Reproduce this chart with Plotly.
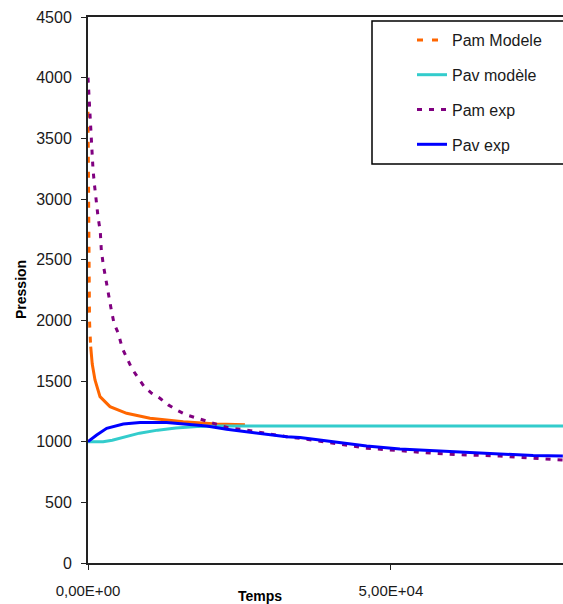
import plotly.graph_objects as go

# ---- data ----
pam_modele_t = [0, 40, 80, 120, 170, 250, 330, 445, 700, 1155, 1980, 3630, 6380,
                10230, 15730, 21230, 25900]
pam_modele_v = [3720, 3250, 2850, 2500, 2200, 2000, 1896, 1783, 1640, 1509, 1371,
                1289, 1234, 1193, 1165, 1146, 1140]

pav_modele_t = [0, 2500, 4000, 6000, 8500, 11500, 14500, 18000, 22000, 30000, 80000]
pav_modele_v = [1000, 1000, 1012, 1040, 1070, 1095, 1113, 1125, 1130, 1130, 1130]

pam_exp_t = [0, 165, 330, 495, 660, 825, 1040, 1320, 1650, 2030, 2195, 2525, 2920,
             3350, 3795, 4290, 5000, 5660, 6385, 7210, 8300, 9290, 10510, 11880,
             13250, 14635, 16285, 18200, 19850, 21500, 23150, 26185, 29485, 32785,
             34980, 40475, 45985, 51480, 56975, 62485, 67980, 73475, 78375]
pam_exp_v = [4000, 3831, 3680, 3520, 3399, 3246, 3130, 2979, 2855, 2731, 2580, 2457,
             2339, 2223, 2100, 1976, 1893, 1770, 1688, 1605, 1523, 1453, 1399, 1358,
             1303, 1261, 1220, 1193, 1165, 1138, 1115, 1095, 1065, 1041, 1028, 987,
             946, 926, 904, 890, 882, 863, 849]

pav_exp_t = [0, 1435, 3085, 5825, 8580, 12985, 16285, 19585, 22885, 26185, 29485,
             32785, 34980, 40475, 45985, 51480, 56975, 62485, 67980, 73475, 78375]
pav_exp_v = [1000, 1055, 1110, 1146, 1157, 1157, 1143, 1129, 1102, 1082, 1061,
             1041, 1035, 1000, 965, 940, 926, 918, 904, 885, 882]

y_ticks = [0, 500, 1000, 1500, 2000, 2500, 3000, 3500, 4000, 4500]
x_tick_vals = [0, 50000]
x_tick_text = ["0,00E+00", "5,00E+04"]

split = 7  # where the steep dashed part of Pam Modele ends

fig = go.Figure()
fig.add_trace(go.Scatter(x=pam_modele_t[:split + 1], y=pam_modele_v[:split + 1],
                         mode="lines", name="Pam Modele", legendgroup="a",
                         line=dict(color="#FF6600", width=3, dash="6px,9px")))
fig.add_trace(go.Scatter(x=pam_modele_t[split:], y=pam_modele_v[split:],
                         mode="lines", showlegend=False, legendgroup="a",
                         line=dict(color="#FF6600", width=3)))
fig.add_trace(go.Scatter(x=pav_modele_t, y=pav_modele_v, mode="lines",
                         name="Pav modèle", legendgroup="b",
                         line=dict(color="#33CCCC", width=3)))
fig.add_trace(go.Scatter(x=pam_exp_t, y=pam_exp_v, mode="lines",
                         name="Pam exp", legendgroup="c",
                         line=dict(color="#800080", width=3, dash="5px,7px")))
fig.add_trace(go.Scatter(x=pav_exp_t, y=pav_exp_v, mode="lines",
                         name="Pav exp", legendgroup="d",
                         line=dict(color="#0000FF", width=3)))

fig.update_layout(
    width=563, height=604,
    margin=dict(l=88, r=0, t=17, b=41),
    paper_bgcolor="white", plot_bgcolor="white",
    font=dict(family="Liberation Sans, Arial, sans-serif", color="#1a1a1a"),
    showlegend=True,
    legend=dict(x=(412 - 88) / 475, y=(563 - 23) / 546, xanchor="left", yanchor="top",
                bgcolor="rgba(0,0,0,0)", borderwidth=0,
                font=dict(size=16, color="#1a1a1a"), tracegroupgap=11),
    xaxis=dict(range=[0, 78400], tickvals=x_tick_vals, ticktext=x_tick_text,
               showgrid=False, zeroline=False, showline=True, linecolor="#222",
               linewidth=2, mirror=True, ticks="outside", ticklen=5, tickwidth=1,
               tickcolor="#222", tickfont=dict(size=15), ticklabelstandoff=8),
    yaxis=dict(range=[0, 4500], tickvals=y_ticks, showgrid=False, zeroline=False,
               showline=True, linecolor="#222", linewidth=2, ticks="outside",
               ticklen=5, tickwidth=1, tickcolor="#222", tickfont=dict(size=16),
               ticklabelstandoff=6),
    shapes=[dict(type="rect", xref="paper", yref="paper",
                 x0=(372 - 88) / 475, x1=1.1, y0=(563 - 164) / 546,
                 y1=(563 - 21) / 546, line=dict(color="black", width=1.5),
                 fillcolor="rgba(0,0,0,0)")],
    annotations=[
        dict(text="<b>Pression</b>", xref="paper", yref="paper",
             x=-(88 - 21) / 475, y=(563 - 290) / 546, textangle=-90,
             showarrow=False, font=dict(size=14, color="black"),
             xanchor="center", yanchor="middle"),
        dict(text="<b>Temps</b>", xref="paper", yref="paper",
             x=(260 - 88) / 475, y=-(596 - 563) / 546, showarrow=False,
             font=dict(size=14, color="black"), xanchor="center", yanchor="middle"),
    ],
)

fig.write_html("out.html",
               config={"displayModeBar": False},
               post_script="document.body.style.margin='0';"
                           "document.documentElement.style.overflow='hidden';")
